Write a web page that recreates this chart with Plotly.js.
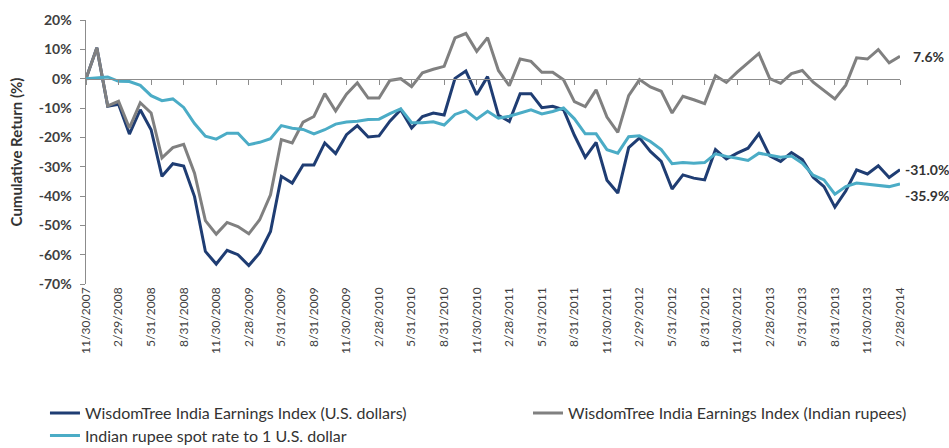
<!DOCTYPE html>
<html>
<head>
<meta charset="utf-8">
<script src="https://cdn.plot.ly/plotly-3.0.1.min.js"></script>
<style>html,body{margin:0;padding:0;background:#fff;}#chart{width:949px;height:448px;}</style>
</head>
<body>
<div id="chart"></div>
<script>
// Month-end dates (categories)
var dates = [
"11/30/2007","12/31/2007","1/31/2008","2/29/2008","3/31/2008","4/30/2008","5/31/2008","6/30/2008","7/31/2008","8/31/2008","9/30/2008","10/31/2008",
"11/30/2008","12/31/2008","1/31/2009","2/28/2009","3/31/2009","4/30/2009","5/31/2009","6/30/2009","7/31/2009","8/31/2009","9/30/2009","10/31/2009",
"11/30/2009","12/31/2009","1/31/2010","2/28/2010","3/31/2010","4/30/2010","5/31/2010","6/30/2010","7/31/2010","8/31/2010","9/30/2010","10/31/2010",
"11/30/2010","12/31/2010","1/31/2011","2/28/2011","3/31/2011","4/30/2011","5/31/2011","6/30/2011","7/31/2011","8/31/2011","9/30/2011","10/31/2011",
"11/30/2011","12/31/2011","1/31/2012","2/29/2012","3/31/2012","4/30/2012","5/31/2012","6/30/2012","7/31/2012","8/31/2012","9/30/2012","10/31/2012",
"11/30/2012","12/31/2012","1/31/2013","2/28/2013","3/31/2013","4/30/2013","5/31/2013","6/30/2013","7/31/2013","8/31/2013","9/30/2013","10/31/2013",
"11/30/2013","12/31/2013","1/31/2014","2/28/2014"
];

// Tick labels on the category axis (every third month)
var tickLabels = ["11/30/2007","2/29/2008","5/31/2008","8/31/2008","11/30/2008","2/28/2009","5/31/2009","8/31/2009",
"11/30/2009","2/28/2010","5/31/2010","8/31/2010","11/30/2010","2/28/2011","5/31/2011","8/31/2011",
"11/30/2011","2/29/2012","5/31/2012","8/31/2012","11/30/2012","2/28/2013","5/31/2013","8/31/2013",
"11/30/2013","2/28/2014"];

// Cumulative return (%) - WisdomTree India Earnings Index (U.S. dollars)
var usd = [0,10.5,-9.4,-8.7,-18.9,-10.6,-17.4,-33.3,-29.0,-29.8,-40.2,-58.9,
-63.2,-58.5,-60.0,-63.7,-59.4,-52.1,-33.3,-35.6,-29.4,-29.4,-21.9,-25.5,
-19.1,-16.0,-19.9,-19.5,-14.5,-10.6,-16.8,-12.9,-11.7,-12.4,0.1,2.6,
-5.5,0.7,-12.5,-14.6,-5.1,-5.1,-9.9,-9.4,-10.6,-19.3,-26.8,-21.7,
-34.6,-39.0,-23.5,-20.2,-24.8,-28.2,-37.6,-32.8,-33.9,-34.5,-24.2,-27.4,
-25.4,-23.7,-18.8,-26.3,-28.2,-25.2,-27.6,-33.6,-36.8,-43.8,-38.3,-31.1,
-32.5,-29.7,-33.7,-31.0];

// Cumulative return (%) - WisdomTree India Earnings Index (Indian rupees)
var inr = [0,10.5,-9.3,-7.7,-16.8,-8.2,-11.7,-27.0,-23.5,-22.4,-32.2,-48.4,
-53.0,-49.0,-50.4,-52.9,-48.1,-39.6,-20.8,-21.9,-14.8,-12.9,-5.1,-11.0,
-5.3,-1.4,-6.6,-6.6,-0.6,0.0,-2.7,2.0,3.2,4.2,13.9,15.4,
9.3,14.0,2.8,-2.4,6.7,5.9,2.2,2.2,-0.4,-7.8,-9.5,-3.8,
-13.1,-18.3,-5.8,-0.3,-2.8,-4.3,-11.7,-6.0,-7.2,-8.5,1.0,-1.3,
2.2,5.4,8.6,0.0,-1.6,1.7,2.8,-1.2,-4.0,-6.9,-2.2,7.1,
6.7,9.9,5.4,7.6];

// Cumulative return (%) - Indian rupee spot rate to 1 U.S. dollar
var fx = [0,0.4,0.6,-0.9,-1.0,-2.3,-5.8,-7.5,-6.9,-9.8,-15.3,-19.6,
-20.6,-18.6,-18.6,-22.5,-21.7,-20.5,-16.0,-16.9,-17.3,-18.8,-17.4,-15.5,
-14.8,-14.5,-13.9,-13.8,-11.9,-10.3,-15.0,-15.0,-14.7,-15.8,-12.2,-10.9,
-13.8,-11.1,-13.5,-12.8,-11.6,-10.6,-12.0,-11.2,-10.0,-13.7,-18.8,-18.8,
-24.2,-25.4,-19.8,-19.5,-21.4,-24.2,-29.0,-28.6,-28.8,-28.6,-25.6,-26.5,
-27.1,-27.9,-25.4,-26.1,-26.8,-26.4,-28.8,-32.9,-34.5,-39.4,-36.8,-35.6,
-36.0,-36.2,-36.8,-35.9];

var seriesNames = ["WisdomTree India Earnings Index (U.S. dollars)",
                   "WisdomTree India Earnings Index (Indian rupees)",
                   "Indian rupee spot rate to 1 U.S. dollar"];

var yTickVals = [-70,-60,-50,-40,-30,-20,-10,0,10,20];
var yTickText = ["-70%","-60%","-50%","-40%","-30%","-20%","-10%","0%","10%","20%"];

var cUsd = "#1f3d73", cInr = "#808080", cFx = "#4bacc6";
var FONT = "Lato, 'Liberation Sans', sans-serif";

var traces = [
  {x: dates, y: usd, name: seriesNames[0], type: "scatter", mode: "lines",
   line: {color: cUsd, width: 3}, legend: "legend", xaxis: "x", yaxis: "y"},
  {x: dates, y: inr, name: seriesNames[1], type: "scatter", mode: "lines",
   line: {color: cInr, width: 3}, legend: "legend2", xaxis: "x", yaxis: "y"},
  {x: dates, y: fx, name: seriesNames[2], type: "scatter", mode: "lines",
   line: {color: cFx, width: 3}, legend: "legend3", xaxis: "x2", yaxis: "y"}
];

function last(a){ return a[a.length-1]; }
function pct(v){ return v.toFixed(1) + "%"; }

var n = dates.length - 1;
var annFont = {family: FONT, size: 14, color: "#333333", weight: 700};
var annotations = [
  {x: dates[n], y: last(inr), text: pct(last(inr)), xref: "x", yref: "y", showarrow: false,
   xanchor: "left", xshift: 11, font: annFont},
  {x: dates[n], y: last(usd), text: pct(last(usd)), xref: "x", yref: "y", showarrow: false,
   xanchor: "left", xshift: 3, font: annFont},
  {x: dates[n], y: last(fx), text: pct(last(fx)), xref: "x", yref: "y", showarrow: false,
   xanchor: "left", xshift: 3, yshift: -12, font: annFont}
];

var legFont = {family: FONT, size: 16, color: "#333333"};
function legendAt(x, y) {
  return {orientation: "h", x: x, xanchor: "left", y: y, yanchor: "top",
          font: legFont, bgcolor: "rgba(0,0,0,0)"};
}

var layout = {
  width: 949, height: 448,
  margin: {l: 86, r: 49, t: 20, b: 164, autoexpand: false},
  paper_bgcolor: "#ffffff", plot_bgcolor: "#ffffff",
  font: {family: FONT, color: "#404040"},
  showlegend: true,
  xaxis: {
    type: "category", range: [0, n], showgrid: false, zeroline: false, showline: false,
    ticks: "", tickmode: "array", tickvals: tickLabels, ticktext: tickLabels,
    tickangle: -90, tickfont: {family: FONT, size: 12, color: "#404040"}
  },
  xaxis2: {
    type: "category", range: [0, n], overlaying: "x", anchor: "free",
    position: (0 - (-70)) / 90, side: "bottom",
    showgrid: false, zeroline: false, showline: true, linecolor: "#8c8c8c", linewidth: 1.5,
    ticks: "outside", ticklen: 5, tickwidth: 1, tickcolor: "#8c8c8c",
    tickmode: "array", tickvals: tickLabels, showticklabels: false
  },
  yaxis: {
    range: [-70, 20], showgrid: false, zeroline: false,
    showline: true, linecolor: "#8c8c8c", linewidth: 1.5,
    ticks: "outside", ticklen: 5, tickcolor: "#8c8c8c",
    tickmode: "array", tickvals: yTickVals, ticktext: yTickText, ticklabelstandoff: 5,
    tickfont: {family: FONT, size: 14, color: "#404040", weight: 700},
    title: {text: "Cumulative Return (%)", font: {family: FONT, size: 15, color: "#333333", weight: 700}, standoff: 12}
  },
  legend: legendAt(-0.0504, -0.425),
  legend2: legendAt(0.543, -0.425),
  legend3: legendAt(-0.0504, -0.51),
  annotations: annotations
};

Plotly.newPlot("chart", traces, layout, {displayModeBar: false, staticPlot: true});
</script>
</body>
</html>
